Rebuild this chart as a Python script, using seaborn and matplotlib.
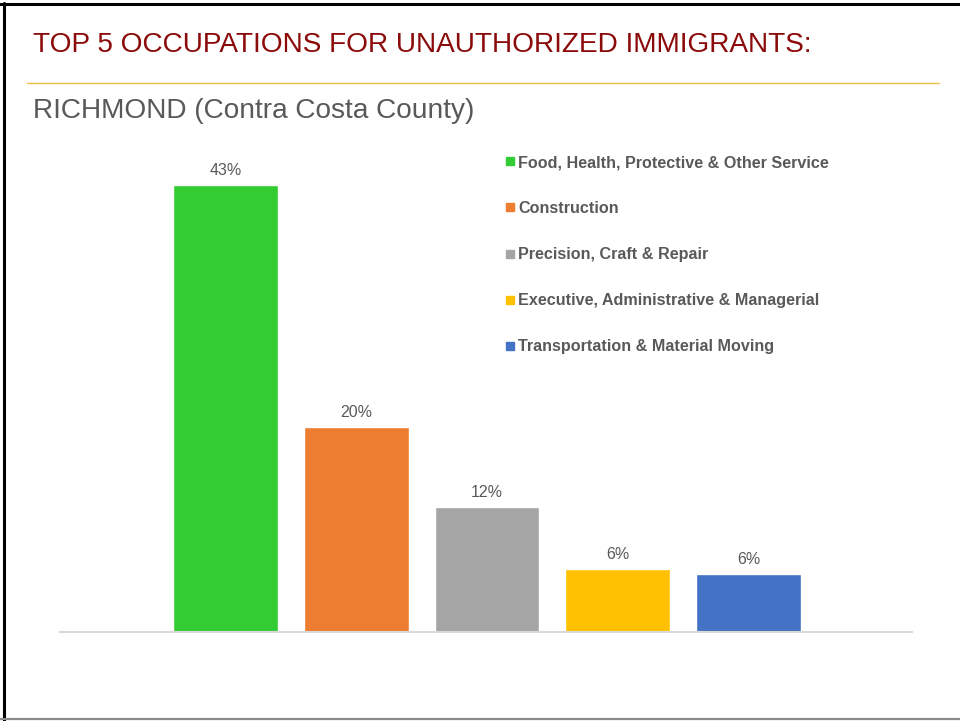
import matplotlib
matplotlib.use("Agg")
import matplotlib.pyplot as plt
from matplotlib.lines import Line2D
import seaborn as sns
import pandas as pd

# Chart data
occupations = [
    "Food, Health, Protective & Other Service",
    "Construction",
    "Precision, Craft & Repair",
    "Executive, Administrative & Managerial",
    "Transportation & Material Moving",
]
shares = [43.0, 19.7, 12.0, 6.1, 5.6]
share_labels = ["43%", "20%", "12%", "6%", "6%"]
bar_colors = ["#33CC33", "#ED7D31", "#A5A5A5", "#FFC000", "#4472C4"]

title = "TOP 5 OCCUPATIONS FOR UNAUTHORIZED IMMIGRANTS:"
subtitle = "RICHMOND (Contra Costa County)"

df = pd.DataFrame({"occupation": occupations, "share": shares})

sns.set_theme(style="white")
plt.rcParams["font.family"] = ["Liberation Sans", "DejaVu Sans"]

fig = plt.figure(figsize=(9.6, 7.21), dpi=100)
fig.patch.set_facecolor("white")

# slide border
fig.add_artist(Line2D([0.004, 0.004], [0.0, 0.996], transform=fig.transFigure, color="black", lw=2.2))
fig.add_artist(Line2D([0.0, 1.0], [0.994, 0.994], transform=fig.transFigure, color="black", lw=2.2))
fig.add_artist(Line2D([0.0, 1.0], [0.003, 0.003], transform=fig.transFigure, color="#8c8c8c", lw=1.6))

# slide title and divider
fig.text(33 / 960, 1 - 45 / 721, title, color="#8B0A0A", fontsize=20.2, va="center", ha="left")
fig.add_artist(Line2D([27 / 960, 939 / 960], [1 - 83 / 721, 1 - 83 / 721], transform=fig.transFigure,
                      color="#F0B429", lw=1.0, alpha=0.85))
fig.text(33 / 960, 1 - 111 / 721, subtitle, color="#595959", fontsize=20.2, va="center", ha="left")

ax = fig.add_axes([60 / 960, 1 - 632 / 721, 852 / 960, 482 / 721])
sns.barplot(data=df, x="occupation", y="share", hue="occupation", palette=bar_colors,
            order=occupations, hue_order=occupations, width=0.8, legend=False, ax=ax, saturation=1)

ax.set_xlim(-1.266, 5.25)
ax.set_ylim(0, 46.35)
ax.set_xlabel("")
ax.set_ylabel("")
ax.set_xticks([])
ax.set_yticks([])
for side in ["top", "right", "left"]:
    ax.spines[side].set_visible(False)
ax.spines["bottom"].set_color("#d9d9d9")
ax.spines["bottom"].set_linewidth(1.5)

for cont, lab in zip(ax.containers, share_labels):
    ax.bar_label(cont, labels=[lab], padding=5, fontsize=11.5, color="#595959")

handles = [Line2D([], [], marker="s", linestyle="", markersize=6, color=c) for c in bar_colors]
ax.legend(handles, occupations, loc="upper left", bbox_to_anchor=(506 / 960, 1 - 155 / 721),
          bbox_transform=fig.transFigure, frameon=False, handlelength=0.45, handletextpad=0.3,
          labelspacing=1.93, borderpad=0, borderaxespad=0,
          prop={"weight": "bold", "size": 11.6}, labelcolor="#595959")

fig.savefig("out.png", dpi=100, facecolor="white")
